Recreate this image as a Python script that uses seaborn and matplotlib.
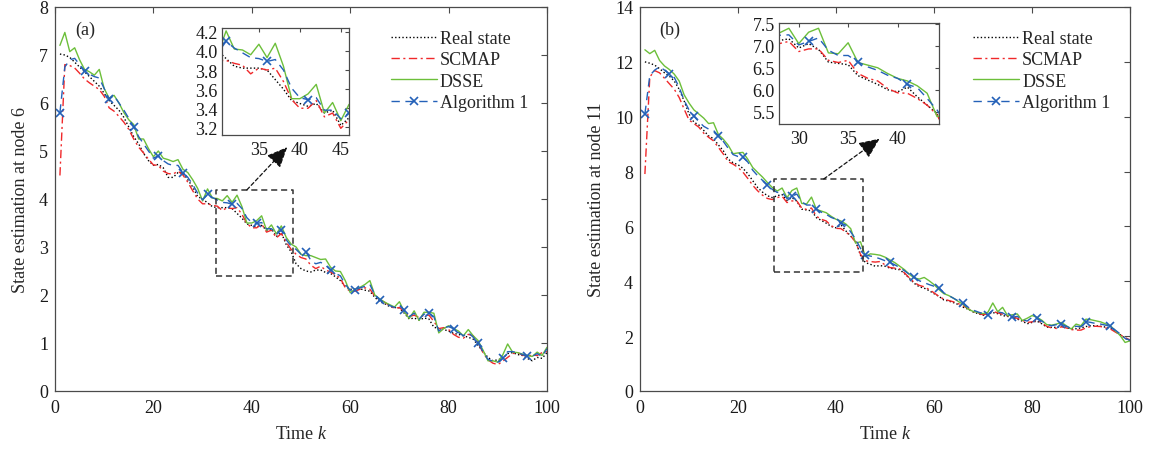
import numpy as np
import pandas as pd
import matplotlib
matplotlib.use("Agg")
import matplotlib.pyplot as plt
import seaborn as sns

# ---------------- data ----------------
k = list(range(1, 101))

real_a = [7.02, 7.00, 6.95, 6.85, 6.75, 6.65, 6.55, 6.45, 6.35, 6.20,
          6.05, 5.95, 5.85, 5.70, 5.50, 5.30, 5.15, 4.95, 4.80, 4.70,
          4.72, 4.65, 4.45, 4.45, 4.55, 4.55, 4.40, 4.25, 4.05, 4.00,
          3.92, 3.84, 3.82, 3.82, 3.82, 3.80, 3.70, 3.60, 3.48, 3.45,
          3.42, 3.45, 3.35, 3.38, 3.22, 3.30, 3.05, 2.90, 2.65, 2.55,
          2.50, 2.48, 2.52, 2.52, 2.47, 2.45, 2.38, 2.30, 2.18, 2.12,
          2.12, 2.13, 2.10, 2.08, 1.95, 1.86, 1.82, 1.76, 1.74, 1.73,
          1.62, 1.50, 1.52, 1.48, 1.52, 1.50, 1.33, 1.30, 1.28, 1.25,
          1.20, 1.18, 1.15, 1.12, 1.08, 0.95, 0.82, 0.70, 0.63, 0.65,
          0.68, 0.78, 0.80, 0.76, 0.74, 0.68, 0.63, 0.70, 0.68, 0.80]
scmap_a = [4.49, 6.80, 6.78, 6.73, 6.62, 6.50, 6.42, 6.35, 6.28, 6.14,
           5.90, 5.83, 5.72, 5.60, 5.45, 5.25, 5.08, 4.96, 4.83, 4.71,
           4.70, 4.58, 4.53, 4.52, 4.58, 4.50, 4.35, 4.17, 4.00, 3.90,
           3.90, 3.87, 3.85, 3.76, 3.82, 3.80, 3.82, 3.68, 3.49, 3.40,
           3.40, 3.48, 3.31, 3.35, 3.19, 3.28, 3.10, 2.95, 2.85, 2.78,
           2.75, 2.62, 2.55, 2.60, 2.52, 2.48, 2.42, 2.35, 2.15, 2.08,
           2.08, 2.12, 2.15, 2.12, 1.98, 1.90, 1.85, 1.78, 1.72, 1.74,
           1.65, 1.55, 1.58, 1.53, 1.58, 1.58, 1.45, 1.30, 1.32, 1.28,
           1.18, 1.12, 1.10, 1.18, 1.15, 1.00, 0.80, 0.65, 0.58, 0.55,
           0.62, 0.70, 0.78, 0.80, 0.75, 0.72, 0.75, 0.74, 0.80, 0.82]
dsse_a = [7.20, 7.47, 7.07, 7.15, 6.90, 6.70, 6.65, 6.58, 6.70, 6.30,
          6.10, 6.16, 6.00, 5.80, 5.65, 5.55, 5.25, 5.25, 5.05, 4.88,
          5.00, 4.85, 4.82, 4.78, 4.82, 4.62, 4.55, 4.40, 4.22, 3.96,
          4.21, 4.02, 4.01, 3.96, 4.07, 3.93, 4.08, 3.84, 3.50, 3.50,
          3.55, 3.65, 3.35, 3.46, 3.27, 3.44, 3.20, 3.06, 3.00, 2.85,
          2.82, 2.82, 2.78, 2.74, 2.75, 2.58, 2.50, 2.49, 2.30, 2.05,
          2.12, 2.16, 2.22, 2.30, 2.00, 1.92, 1.85, 1.80, 1.75, 1.86,
          1.65, 1.51, 1.67, 1.47, 1.64, 1.64, 1.62, 1.21, 1.30, 1.36,
          1.30, 1.25, 1.15, 1.28, 1.15, 1.05, 0.85, 0.63, 0.63, 0.60,
          0.75, 0.98, 0.81, 0.80, 0.77, 0.74, 0.72, 0.81, 0.74, 0.91]
alg_a = [5.80, 6.75, 6.90, 6.93, 6.80, 6.66, 6.60, 6.55, 6.52, 6.30,
         6.08, 6.15, 6.00, 5.85, 5.68, 5.50, 5.30, 5.15, 5.00, 4.85,
         4.90, 4.80, 4.73, 4.70, 4.70, 4.55, 4.45, 4.30, 4.12, 3.98,
         4.10, 4.03, 3.98, 3.93, 3.92, 3.89, 3.91, 3.80, 3.61, 3.51,
         3.49, 3.51, 3.38, 3.38, 3.29, 3.35, 3.15, 3.02, 2.95, 2.85,
         2.90, 2.72, 2.65, 2.68, 2.62, 2.52, 2.45, 2.40, 2.22, 2.10,
         2.10, 2.15, 2.18, 2.22, 2.00, 1.90, 1.84, 1.78, 1.74, 1.80,
         1.68, 1.55, 1.62, 1.50, 1.60, 1.62, 1.55, 1.25, 1.32, 1.34,
         1.30, 1.22, 1.15, 1.22, 1.12, 1.00, 0.82, 0.66, 0.62, 0.60,
         0.68, 0.82, 0.82, 0.80, 0.76, 0.72, 0.72, 0.78, 0.72, 0.88]

real_b = [12.00, 11.95, 11.88, 11.75, 11.60, 11.48, 11.30, 11.00, 10.58, 10.10,
          9.80, 9.70, 9.50, 9.30, 9.20, 8.97, 8.76, 8.45, 8.32, 8.25,
          8.12, 7.92, 7.67, 7.42, 7.25, 7.12, 7.05, 7.12, 7.16, 6.95,
          7.05, 6.92, 6.63, 6.60, 6.57, 6.32, 6.22, 6.12, 6.00, 5.95,
          6.06, 5.84, 5.65, 5.46, 4.95, 4.68, 4.62, 4.55, 4.57, 4.55,
          4.48, 4.45, 4.42, 4.28, 4.10, 3.92, 3.80, 3.75, 3.66, 3.55,
          3.45, 3.32, 3.28, 3.22, 3.15, 3.05, 2.98, 2.88, 2.82, 2.76,
          2.80, 2.86, 2.82, 2.75, 2.72, 2.68, 2.62, 2.55, 2.45, 2.50,
          2.55, 2.45, 2.33, 2.32, 2.32, 2.36, 2.32, 2.26, 2.27, 2.30,
          2.35, 2.38, 2.38, 2.36, 2.33, 2.30, 2.18, 2.05, 1.92, 1.83]
scmap_b = [7.91, 11.45, 11.68, 11.60, 11.40, 11.20, 11.00, 10.70, 10.28, 9.88,
           9.75, 9.62, 9.40, 9.25, 9.12, 8.88, 8.64, 8.36, 8.27, 8.15,
           7.98, 7.75, 7.50, 7.30, 7.14, 7.02, 6.98, 7.05, 7.10, 6.87,
           6.93, 6.93, 6.67, 6.62, 6.67, 6.37, 6.26, 6.20, 6.03, 5.93,
           5.92, 5.80, 5.65, 5.43, 4.98, 4.75, 4.72, 4.70, 4.72, 4.60,
           4.50, 4.48, 4.45, 4.30, 4.12, 3.95, 3.85, 3.80, 3.70, 3.58,
           3.45, 3.35, 3.30, 3.25, 3.18, 3.10, 3.00, 2.90, 2.84, 2.78,
           2.82, 2.90, 2.85, 2.80, 2.74, 2.70, 2.65, 2.58, 2.50, 2.52,
           2.58, 2.48, 2.36, 2.30, 2.28, 2.34, 2.30, 2.24, 2.22, 2.22,
           2.30, 2.35, 2.36, 2.35, 2.30, 2.26, 2.15, 2.05, 1.95, 1.86]
dsse_b = [12.44, 12.30, 12.42, 12.05, 11.85, 11.72, 11.55, 11.30, 10.80, 10.50,
          10.25, 10.10, 9.95, 9.75, 9.78, 9.35, 9.18, 8.96, 8.65, 8.68,
          8.70, 8.45, 8.15, 7.97, 7.80, 7.60, 7.42, 7.29, 7.40, 7.05,
          7.31, 7.40, 6.84, 6.82, 7.07, 6.62, 6.56, 6.50, 6.37, 6.26,
          6.20, 6.09, 5.92, 5.39, 5.44, 4.90, 5.00, 4.98, 4.95, 4.88,
          4.78, 4.68, 4.55, 4.42, 4.25, 4.12, 4.08, 4.14, 4.02, 3.88,
          3.70, 3.55, 3.48, 3.38, 3.26, 3.15, 2.98, 2.90, 2.86, 2.82,
          2.87, 3.21, 2.89, 3.05, 2.75, 2.78, 2.81, 2.57, 2.65, 2.75,
          2.69, 2.58, 2.42, 2.40, 2.44, 2.50, 2.38, 2.26, 2.44, 2.38,
          2.62, 2.60, 2.56, 2.52, 2.45, 2.38, 2.20, 2.02, 1.77, 1.83]
alg_b = [10.10, 11.50, 11.70, 11.82, 11.70, 11.56, 11.43, 11.07, 10.60, 10.25,
         10.02, 9.82, 9.65, 9.55, 9.50, 9.30, 9.10, 8.85, 8.62, 8.55,
         8.52, 8.35, 8.05, 7.85, 7.68, 7.51, 7.35, 7.24, 7.25, 7.02,
         7.10, 7.18, 6.90, 6.78, 6.78, 6.63, 6.52, 6.44, 6.33, 6.26,
         6.12, 6.05, 5.80, 5.54, 5.20, 4.96, 4.92, 4.88, 4.82, 4.75,
         4.69, 4.60, 4.50, 4.38, 4.25, 4.14, 4.02, 3.95, 3.88, 3.82,
         3.76, 3.58, 3.48, 3.38, 3.28, 3.21, 3.05, 2.95, 2.88, 2.82,
         2.77, 2.95, 2.88, 2.85, 2.74, 2.69, 2.72, 2.60, 2.55, 2.68,
         2.65, 2.55, 2.42, 2.38, 2.42, 2.44, 2.36, 2.28, 2.36, 2.34,
         2.53, 2.50, 2.46, 2.44, 2.40, 2.36, 2.22, 2.08, 1.92, 1.85]

series_names = ["Real state", "SCMAP", "DSSE", "Algorithm 1"]
xticks_main = [0, 20, 40, 60, 80, 100]
yticks_a = [0, 1, 2, 3, 4, 5, 6, 7, 8]
yticks_b = [0, 2, 4, 6, 8, 10, 12, 14]
xticks_inset_a = [35, 40, 45]
yticks_inset_a = [3.2, 3.4, 3.6, 3.8, 4.0, 4.2]
xticks_inset_b = [30, 35, 40]
yticks_inset_b = [5.5, 6.0, 6.5, 7.0, 7.5]

# ---------------- style ----------------
sns.set_theme(style="white")
plt.rcParams["font.family"] = ["Liberation Serif", "DejaVu Serif"]
plt.rcParams["mathtext.fontset"] = "custom"
plt.rcParams["mathtext.it"] = "Liberation Serif:italic"
plt.rcParams["mathtext.rm"] = "Liberation Serif"
FS = 13
AX_COL = "#4a4a4a"

colors = {"Real state": "#000000", "SCMAP": "#f0282a",
          "DSSE": "#6cbf3a", "Algorithm 1": "#2461b8"}
dashes = {"Real state": (1.0, 1.6), "SCMAP": (6, 2.5, 1.5, 2.5),
          "DSSE": None, "Algorithm 1": (6, 4)}


def style_axes(ax, fs=FS):
    for s in ax.spines.values():
        s.set_color(AX_COL)
        s.set_linewidth(0.9)
    ax.tick_params(direction="in", top=True, right=True, length=4,
                   width=0.8, color=AX_COL, labelsize=fs, labelcolor="#1a1a1a")
    ax.tick_params(axis="x", pad=6)
    ax.tick_params(axis="y", pad=5)
    ax.grid(False)


def draw_series(ax, data):
    handles = []
    for name, vals in zip(series_names, data):
        kw = dict(color=colors[name], linewidth=1.0)
        if dashes[name] is not None:
            kw["dashes"] = dashes[name]
        n_before = len(ax.lines)
        sns.lineplot(x=k, y=vals, ax=ax, legend=False, **kw)
        line = ax.lines[n_before]
        if name == "Algorithm 1":
            line.set_marker("x")
            line.set_markersize(6)
            line.set_markeredgewidth(1.2)
            line.set_markeredgecolor(colors[name])
            line.set_markerfacecolor(colors[name])
            line.set_markevery((0, 5))
        handles.append(line)
    return handles


fig = plt.figure(figsize=(11.57, 4.52), dpi=100)

panels = [
    dict(rect=[55 / 1157, 60 / 452, 492 / 1157, 384 / 452],
         data=[real_a, scmap_a, dsse_a, alg_a], ylim=(0, 8), yticks=yticks_a,
         ylabel="State estimation at node 6", tag="(a)",
         inset_rect=[222 / 1157, (452 - 136) / 452, 127 / 1157, 107 / 452],
         inset_xlim=(30.5, 46), inset_ylim=(3.12, 4.24),
         inset_xt=xticks_inset_a, inset_yt=yticks_inset_a,
         box=(32.7, 2.40, 48.3, 4.19), arrow_from=(39.0, 4.19), arrow_to=(47.2, 5.08),
         leg_anchor=(0.962, 0.94)),
    dict(rect=[640 / 1157, 60 / 452, 490 / 1157, 384 / 452],
         data=[real_b, scmap_b, dsse_b, alg_b], ylim=(0, 14), yticks=yticks_b,
         ylabel="State estimation at node 11", tag="(b)",
         inset_rect=[779 / 1157, (452 - 125) / 452, 160 / 1157, 101 / 452],
         inset_xlim=(28, 44.2), inset_ylim=(5.22, 7.52),
         inset_xt=xticks_inset_b, inset_yt=yticks_inset_b,
         box=(27.4, 4.34, 45.6, 7.73), arrow_from=(37.5, 7.73), arrow_to=(48.9, 9.2),
         leg_anchor=(0.96, 0.94)),
]

for p in panels:
    ax = fig.add_axes(p["rect"])
    handles = draw_series(ax, p["data"])
    ax.set_xlim(0, 100)
    ax.set_ylim(*p["ylim"])
    ax.set_xticks(xticks_main)
    ax.set_yticks(p["yticks"])
    style_axes(ax)
    ax.set_xlabel("Time $k$", fontsize=FS, labelpad=6)
    ax.set_ylabel(p["ylabel"], fontsize=FS, labelpad=7)
    ax.text(0.061, 0.942, p["tag"], transform=ax.transAxes, fontsize=FS,
            ha="center", va="center")
    ax.legend(handles, series_names, loc="upper right",
              bbox_to_anchor=p["leg_anchor"], frameon=False, fontsize=FS,
              handlelength=2.55, handletextpad=0.15, labelspacing=0.24,
              borderaxespad=0.0, borderpad=0.0)
    # zoom rectangle
    x0, y0, x1, y1 = p["box"]
    ax.plot([x0, x1, x1, x0, x0], [y0, y0, y1, y1, y0], color="#333333",
            linewidth=1.1, dashes=(4, 2.5))
    ax.annotate("", xy=p["arrow_to"], xytext=p["arrow_from"],
                arrowprops=dict(arrowstyle="-|>,head_length=0.9,head_width=0.4",
                                color="#111111", linewidth=0.9, linestyle=(0, (3, 2)),
                                mutation_scale=14, shrinkA=0, shrinkB=0))
    # inset
    axi = fig.add_axes(p["inset_rect"])
    draw_series(axi, p["data"])
    axi.set_xlim(*p["inset_xlim"])
    axi.set_ylim(*p["inset_ylim"])
    axi.set_xticks(p["inset_xt"])
    axi.set_yticks(p["inset_yt"])
    axi.set_yticklabels([f"{v:.1f}" for v in p["inset_yt"]])
    style_axes(axi)
    axi.tick_params(length=3)
    axi.tick_params(axis="x", pad=4)
    axi.tick_params(axis="y", pad=3)
    axi.set_xlabel("")
    axi.set_ylabel("")

fig.savefig("out.png", dpi=100)
